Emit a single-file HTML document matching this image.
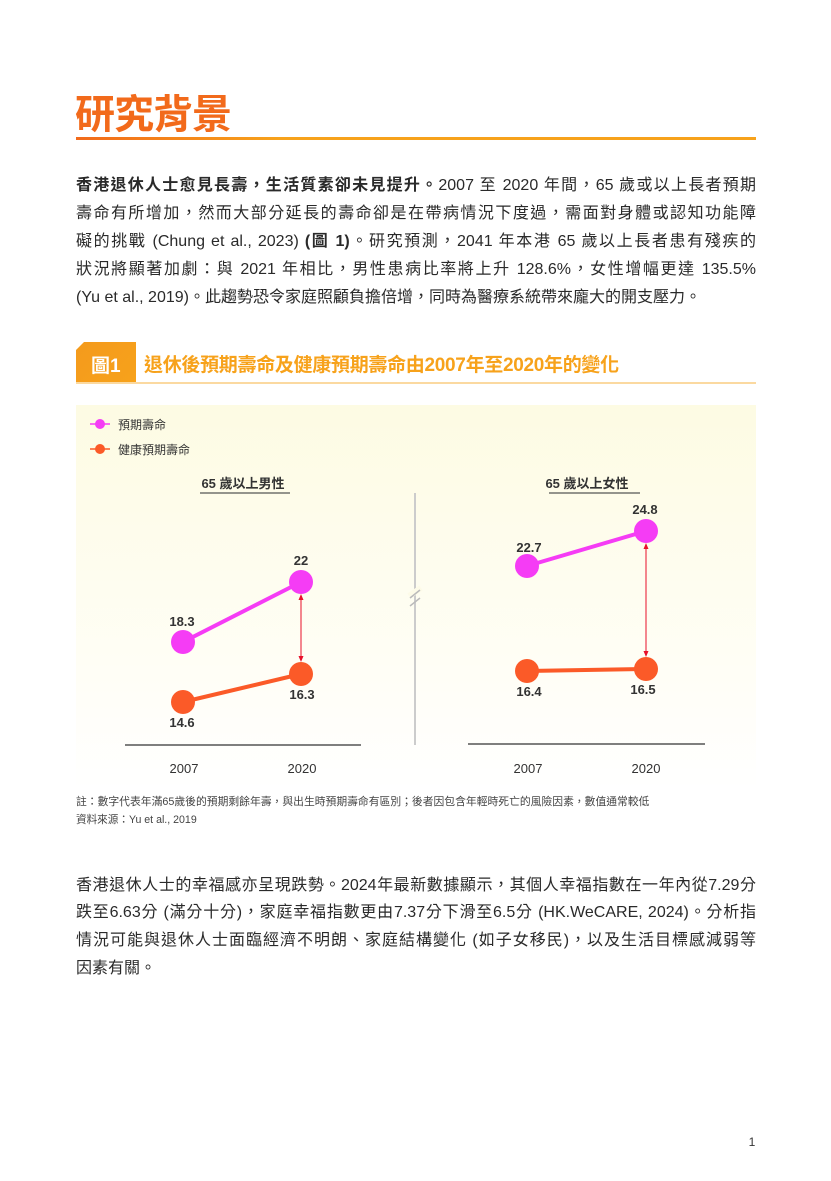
<!DOCTYPE html>
<html><head><meta charset="utf-8">
<style>
*{margin:0;padding:0;box-sizing:border-box}
body{width:831px;height:1181px;background:#fff;position:relative;overflow:hidden;font-family:"Liberation Sans","Noto Sans CJK TC",sans-serif;color:#222}
.a{position:absolute}
.ln{position:absolute;left:76px;width:680px;font-size:16px;line-height:20px;text-align:justify;text-align-last:justify;white-space:nowrap;color:#2a2a2a}
.ln.l{text-align-last:left}
</style></head><body>
<div class="a" style="left:75px;top:90px;font-size:40px;font-weight:bold;color:#f26a1b;line-height:50px;letter-spacing:-1px">研究背景</div>
<div class="a" style="left:76px;top:137px;width:680px;height:3px;background:linear-gradient(90deg,#f26a1b,#f7a21b 30%,#f7a21b)"></div>

<div class="ln" style="top:176px"><b>香港退休人士愈見長壽，生活質素卻未見提升。</b>2007 至 2020 年間，65 歲或以上長者預期</div>
<div class="ln" style="top:204px">壽命有所增加，然而大部分延長的壽命卻是在帶病情況下度過，需面對身體或認知功能障</div>
<div class="ln" style="top:232px">礙的挑戰 (Chung et al., 2023) <b>(圖 1)</b>。研究預測，2041 年本港 65 歲以上長者患有殘疾的</div>
<div class="ln" style="top:260px">狀況將顯著加劇：與 2021 年相比，男性患病比率將上升 128.6%，女性增幅更達 135.5%</div>
<div class="ln l" style="top:288px">(Yu et al., 2019)。此趨勢恐令家庭照顧負擔倍增，同時為醫療系統帶來龐大的開支壓力。</div>

<div class="a" style="left:76px;top:342px;width:60px;height:40px;background:linear-gradient(135deg,#f49a1c,#f7a21b);clip-path:polygon(8px 0,100% 0,100% 100%,0 100%,0 8px)"></div>
<div class="a" style="left:91px;top:351px;font-size:19px;font-weight:bold;color:#fff">圖1</div>
<div class="a" style="left:144px;top:350px;font-size:19px;font-weight:bold;color:#f7a21b;letter-spacing:-0.3px">退休後預期壽命及健康預期壽命由2007年至2020年的變化</div>
<div class="a" style="left:76px;top:382px;width:680px;height:2px;background:#fbd9a0"></div>

<div class="a" style="left:76px;top:405px;width:680px;height:385px;background:linear-gradient(180deg,#fdfbe3,#fffef6 70%,#fff)"></div>

<svg class="a" style="left:0;top:0" width="831" height="1181">
<g font-family="Liberation Sans, Noto Sans CJK TC, sans-serif">
<line x1="90" y1="424" x2="110" y2="424" stroke="#f53cf5" stroke-width="1.5"/><circle cx="100" cy="424" r="5" fill="#f53cf5"/>
<text x="118" y="429" font-size="12" fill="#333">預期壽命</text>
<line x1="90" y1="449" x2="110" y2="449" stroke="#fb5a28" stroke-width="1.5"/><circle cx="100" cy="449" r="5" fill="#fb5a28"/>
<text x="118" y="454" font-size="12" fill="#333">健康預期壽命</text>

<text x="243" y="488" font-size="13" font-weight="bold" fill="#333" text-anchor="middle">65 歲以上男性</text>
<line x1="200" y1="493" x2="290" y2="493" stroke="#555" stroke-width="1.2"/>
<text x="587" y="488" font-size="13" font-weight="bold" fill="#333" text-anchor="middle">65 歲以上女性</text>
<line x1="549" y1="493" x2="640" y2="493" stroke="#555" stroke-width="1.2"/>

<line x1="415" y1="493" x2="415" y2="745" stroke="#ccc" stroke-width="2"/>
<line x1="409" y1="596" x2="421" y2="588" stroke="#fdfbe8" stroke-width="6"/>
<line x1="410" y1="598" x2="420" y2="590" stroke="#bbb" stroke-width="1.5"/>
<line x1="410" y1="606" x2="420" y2="598" stroke="#bbb" stroke-width="1.5"/>

<line x1="125" y1="745" x2="361" y2="745" stroke="#555" stroke-width="1.5"/>
<line x1="468" y1="744" x2="705" y2="744" stroke="#555" stroke-width="1.5"/>

<line x1="183" y1="642" x2="301" y2="582" stroke="#f53cf5" stroke-width="4"/>
<line x1="183" y1="702" x2="301" y2="674" stroke="#fb5a28" stroke-width="4"/>
<line x1="301" y1="596" x2="301" y2="660" stroke="#e8102a" stroke-width="1"/>
<path d="M298.5 600 L301 594 L303.5 600Z M298.5 656 L301 662 L303.5 656Z" fill="#e8102a"/>
<circle cx="183" cy="642" r="12" fill="#f53cf5"/><circle cx="301" cy="582" r="12" fill="#f53cf5"/>
<circle cx="183" cy="702" r="12" fill="#fb5a28"/><circle cx="301" cy="674" r="12" fill="#fb5a28"/>

<line x1="527" y1="566" x2="646" y2="531" stroke="#f53cf5" stroke-width="4"/>
<line x1="527" y1="671" x2="646" y2="669" stroke="#fb5a28" stroke-width="4"/>
<line x1="646" y1="545" x2="646" y2="655" stroke="#e8102a" stroke-width="1"/>
<path d="M643.5 549 L646 543 L648.5 549Z M643.5 651 L646 657 L648.5 651Z" fill="#e8102a"/>
<circle cx="527" cy="566" r="12" fill="#f53cf5"/><circle cx="646" cy="531" r="12" fill="#f53cf5"/>
<circle cx="527" cy="671" r="12" fill="#fb5a28"/><circle cx="646" cy="669" r="12" fill="#fb5a28"/>

<g font-size="13" font-weight="bold" fill="#333" text-anchor="middle">
<text x="182" y="626">18.3</text><text x="301" y="565">22</text>
<text x="302" y="699">16.3</text><text x="182" y="727">14.6</text>
<text x="529" y="552">22.7</text><text x="645" y="514">24.8</text>
<text x="529" y="696">16.4</text><text x="643" y="694">16.5</text>
</g>
<g font-size="13" fill="#333" text-anchor="middle">
<text x="184" y="773">2007</text><text x="302" y="773">2020</text>
<text x="528" y="773">2007</text><text x="646" y="773">2020</text>
</g>
<text x="76" y="805" font-size="10.8" fill="#444">註：數字代表年滿65歲後的預期剩餘年壽，與出生時預期壽命有區別；後者因包含年輕時死亡的風險因素，數值通常較低</text>
<text x="76" y="823" font-size="10.6" fill="#444">資料來源：Yu et al., 2019</text>
<text x="752" y="1146" font-size="12" fill="#333" text-anchor="middle">1</text>
</g>
</svg>

<div class="ln" style="top:876px">香港退休人士的幸福感亦呈現跌勢。2024年最新數據顯示，其個人幸福指數在一年內從7.29分</div>
<div class="ln" style="top:903px">跌至6.63分 (滿分十分)，家庭幸福指數更由7.37分下滑至6.5分 (HK.WeCARE, 2024)。分析指</div>
<div class="ln" style="top:931px">情況可能與退休人士面臨經濟不明朗、家庭結構變化 (如子女移民)，以及生活目標感減弱等</div>
<div class="ln l" style="top:959px">因素有關。</div>
</body></html>
